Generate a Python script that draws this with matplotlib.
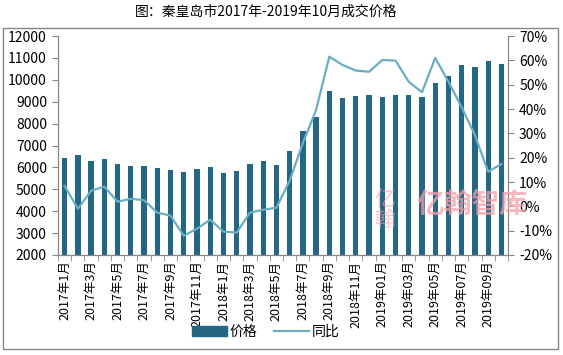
import numpy as np
import matplotlib
matplotlib.use("Agg")
import matplotlib.pyplot as plt
from matplotlib.patches import Rectangle, Patch
from matplotlib.lines import Line2D
from matplotlib.ticker import FuncFormatter

plt.rcParams['font.family'] = ['Noto Sans CJK SC', 'DejaVu Sans']

# 2017年1月 - 2019年10月
months = [f"2017年{m}月" for m in range(1, 13)] + \
         [f"2018年{m}月" for m in range(1, 13)] + \
         [f"2019年{m:02d}月" for m in range(1, 11)]
price = [6440, 6570, 6290, 6380, 6160, 6060, 6060, 5970, 5880, 5790,
         5930, 6020, 5740, 5840, 6160, 6290, 6110, 6750, 7660, 8300,
         9490, 9170, 9260, 9310, 9220, 9310, 9310, 9220, 9850, 10170,
         10680, 10590, 10860, 10720]
yoy = [8.4, -1.0, 6.4, 8.1, 1.9, 3.1, 2.5, -2.6, -3.8, -12.1,
       -9.2, -5.5, -10.4, -10.8, -2.6, -1.4, -0.6, 10.5, 26.0, 39.6,
       61.5, 58.1, 55.8, 55.3, 60.1, 59.9, 51.2, 46.9, 61.0, 51.2,
       40.7, 29.3, 14.2, 17.4]

bar_c = "#236785"
line_c = "#6aaec4"
axis_c = "#868686"

fig = plt.figure(figsize=(5.63, 3.55), dpi=100)
ax = fig.add_axes([58 / 563, 1 - 255 / 355, 450 / 563, 219 / 355])
ax2 = ax.twinx()

x = np.arange(len(months))
ax.bar(x, price, width=0.4, color=bar_c, zorder=2)
ax2.plot(x, yoy, color=line_c, lw=1.6, zorder=3)

ax.set_xlim(-0.5, len(months) - 0.5)
ax.set_ylim(2000, 12000)
ax.set_yticks(range(2000, 12001, 1000))
ax2.set_ylim(-20, 70)
ax2.set_yticks(range(-20, 71, 10))
ax2.yaxis.set_major_formatter(FuncFormatter(lambda v, p: f"{v:.0f}%"))

ax.set_xticks(x[::2])
ax.set_xticklabels(months[::2], rotation=90, fontsize=9)
ax.set_xticks(np.arange(-0.5, len(months), 1), minor=True)
ax.tick_params(axis='x', which='major', length=0, pad=4)
ax.tick_params(axis='x', which='minor', length=4, color=axis_c)
ax.tick_params(axis='y', labelsize=10, length=4, color=axis_c, pad=4)
ax2.tick_params(axis='y', labelsize=10, length=4, color=axis_c, pad=4)

for a in (ax, ax2):
    a.spines['top'].set_visible(False)
    for s in ('left', 'right', 'bottom'):
        a.spines[s].set_color(axis_c)

# 水印
fig.text(472 / 563, 1 - 205 / 355, "亿翰智库", fontsize=20, color="#f2a0aa",
         alpha=0.75, ha='center', va='center', zorder=5, fontweight='bold')
fig.text(385 / 563, 1 - 210 / 355, "亿\n翰", fontsize=15, color="#f2a0aa",
         alpha=0.6, ha='center', va='center', zorder=5, linespacing=0.9)

fig.text(266 / 563, 1 - 12 / 355, "图：秦皇岛市2017年-2019年10月成交价格",
         fontsize=10, ha='center', va='center')

fig.patches.append(Rectangle((3 / 563, 1 - 349 / 355), 555 / 563, 321 / 355,
                             transform=fig.transFigure, fill=False,
                             edgecolor=axis_c, lw=1))

handles = [Patch(color=bar_c, label="价格"),
           Line2D([0], [0], color=line_c, lw=1.6, label="同比")]
fig.legend(handles=handles, loc='center', bbox_to_anchor=(266 / 563, 1 - 332 / 355),
           ncol=2, frameon=False, fontsize=10, handlelength=2.5,
           handleheight=0.7, columnspacing=1.2, handletextpad=0.2)

fig.savefig("out.png", dpi=100)
